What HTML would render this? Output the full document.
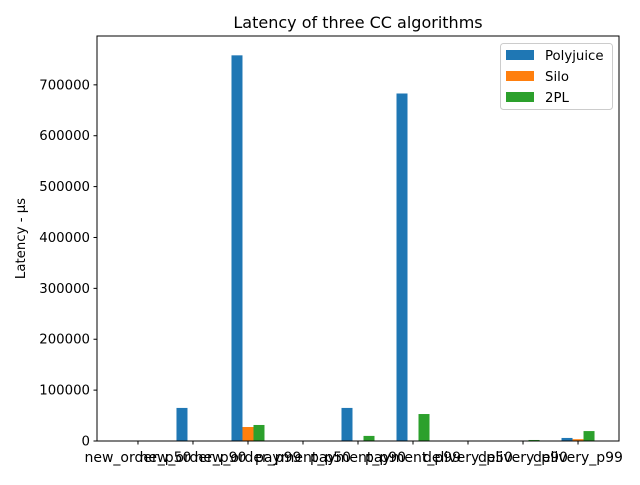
<!DOCTYPE html>
<html><head><meta charset="utf-8"><style>
body{margin:0;background:#fff;}
svg text{font-family:"DejaVu Sans","Liberation Sans",sans-serif;}
</style></head><body>
<svg id="chart" width="640" height="480" xmlns="http://www.w3.org/2000/svg"></svg>
<script>
const categories=["new_order_p50","new_order_p90","new_order_p99","payment_p50","payment_p90","payment_p99","delivery_p50","delivery_p90","delivery_p99"];
const seriesNames=["Polyjuice","Silo","2PL"];
const polyjuice=[300,65000,758000,300,65000,683000,300,300,6000];
const silo=[200,300,27500,200,400,500,200,300,3500];
const twoPL=[300,500,31500,300,10000,53000,300,2000,19500];
const yTicks=[0,100000,200000,300000,400000,500000,600000,700000];
const colors=["#1f77b4","#ff7f0e","#2ca02c"];
const svg=document.getElementById('chart');
const NS="http://www.w3.org/2000/svg";
const L=97,R=619,T=36,B=441,xmin=-0.745,xmax=8.745,ymax=796000;
const xs=v=>L+(v-xmin)/(xmax-xmin)*(R-L);
const ys=v=>B-v/ymax*(B-T);
function mk(tag,attrs,parent){const e=document.createElementNS(NS,tag);for(const k in attrs)e.setAttribute(k,attrs[k]);(parent||svg).appendChild(e);return e;}
const all=[polyjuice,silo,twoPL];
const bw=0.2;
all.forEach((ser,si)=>{ser.forEach((v,i)=>{
 const x0=xs(i+(si-1)*bw-bw/2),x1=xs(i+(si-1)*bw+bw/2);
 const r=mk('rect',{x:x0,y:ys(v),width:x1-x0,height:B-ys(v),fill:colors[si]});
 
 
});});
const frame=mk('rect',{x:L,y:T,width:R-L,height:B-T,fill:'none',stroke:'#000','stroke-width':1});


yTicks.forEach(v=>{const y=ys(v);
 mk('line',{x1:L-3.5,x2:L,y1:y,y2:y,stroke:'#000'});
 const t=mk('text',{x:L-7,y:y+4.5,'text-anchor':'end','font-size':'13.3'});t.textContent=v;
 
 
});
categories.forEach((c,i)=>{const x=xs(i);
 mk('line',{x1:x,x2:x,y1:B,y2:B+3.5,stroke:'#000'});
 const t=mk('text',{x:x,y:B+21,'text-anchor':'middle','font-size':'14'});t.textContent=c;
 
 
});
const title=mk('text',{x:(L+R)/2,y:T-8,'text-anchor':'middle','font-size':'16'});title.textContent="Latency of three CC algorithms";


const yl=mk('text',{x:0,y:0,'text-anchor':'middle','font-size':'13.3',transform:`translate(25,${(T+B)/2}) rotate(-90)`});yl.textContent="Latency - µs";


const lg=mk('g',{});


mk('rect',{x:500.5,y:43.5,width:112,height:66,rx:3,fill:'#fff','fill-opacity':0.8,stroke:'#ccc'},lg);
seriesNames.forEach((n,i)=>{const y=50+i*21;
 mk('rect',{x:506,y:y,width:28,height:10,fill:colors[i]},lg);
 const t=mk('text',{x:545,y:y+10,'font-size':'13.3'},lg);t.textContent=n;
 
 
});
</script>
</body></html>
